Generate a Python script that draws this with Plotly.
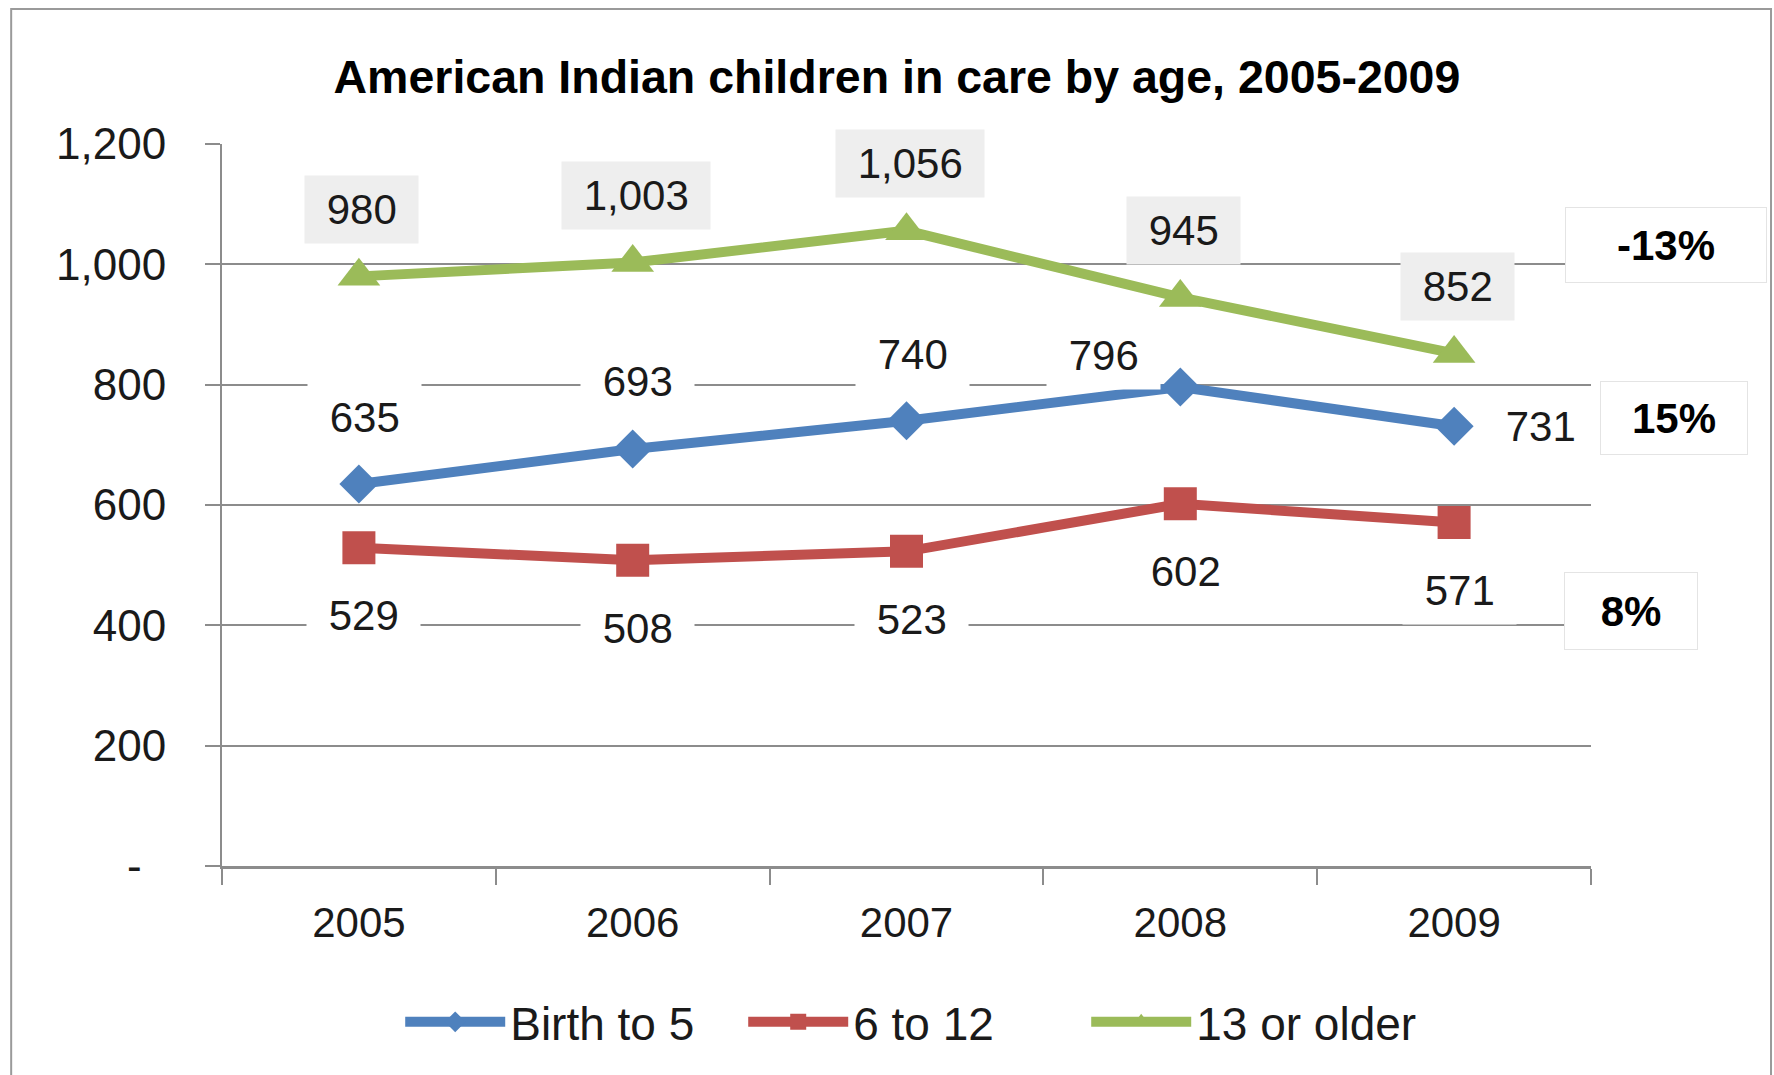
import plotly.graph_objects as go

years = ["2005", "2006", "2007", "2008", "2009"]
birth_to_5 = [635, 693, 740, 796, 731]
six_to_12 = [529, 508, 523, 602, 571]
thirteen_plus = [980, 1003, 1056, 945, 852]
series_names = ["Birth to 5", "6 to 12", "13 or older"]
y_ticks = [0, 200, 400, 600, 800, 1000, 1200]
y_ticktext = ["-\u00a0\u00a0", "200", "400", "600", "800", "1,000", "1,200"]

BLUE = "#4F81BD"
RED = "#C0504D"
GREEN = "#9BBB59"
GRID = "#8c8c8c"
TXT = "#1a1a1a"
FONT = "Liberation Sans"

fig = go.Figure()
fig.add_trace(go.Scatter(x=years, y=birth_to_5, name=series_names[0], mode="lines+markers",
                         line=dict(color=BLUE, width=10),
                         marker=dict(symbol="diamond", size=30, color=BLUE)))
fig.add_trace(go.Scatter(x=years, y=six_to_12, name=series_names[1], mode="lines+markers",
                         line=dict(color=RED, width=10),
                         marker=dict(symbol="square", size=33, color=RED)))
fig.add_trace(go.Scatter(x=years, y=thirteen_plus, name=series_names[2], mode="lines+markers",
                         line=dict(color=GREEN, width=10),
                         marker=dict(symbol="triangle-up", size=37, color=GREEN)))

def fmt(v):
    return "\u00a0" + f"{v:,}" + "\u00a0"

annotations = []
# Blue labels
blue_shift = [(6, 66), (5, 68), (6, 66), (-77, 32), (86, 0)]
for i, v in enumerate(birth_to_5):
    dx, dy = blue_shift[i]
    annotations.append(dict(x=i, y=v, xref="x", yref="y", text=fmt(v), showarrow=False,
                            xanchor="center", yanchor="middle", xshift=dx, yshift=dy,
                            bgcolor="white", borderpad=10,
                            font=dict(family=FONT, size=42, color=TXT)))
# Red labels
for i, v in enumerate(six_to_12):
    annotations.append(dict(x=i, y=v, xref="x", yref="y", text=fmt(v), showarrow=False,
                            xanchor="center", yanchor="middle", xshift=5, yshift=-68,
                            bgcolor="white", borderpad=10,
                            font=dict(family=FONT, size=42, color=TXT)))
# Green labels
for i, v in enumerate(thirteen_plus):
    annotations.append(dict(x=i, y=v, xref="x", yref="y", text=fmt(v), showarrow=False,
                            xanchor="center", yanchor="middle", xshift=3, yshift=67,
                            bgcolor="#eeeeee", borderpad=10,
                            font=dict(family=FONT, size=42, color=TXT)))

# Percent change labels
def pct(series):
    return round((series[-1] - series[0]) / series[0] * 100)

pct_specs = [
    (pct(thirteen_plus), 1.0548, 0.860, 200, 74),
    (pct(birth_to_5), 1.0606, 0.620, 146, 72),
    (pct(six_to_12), 1.0292, 0.353, 132, 76),
]
for p, px, py, w, h in pct_specs:
    annotations.append(dict(x=px, y=py, xref="paper", yref="paper", text=f"<b>{p}%</b>",
                            xanchor="center", yanchor="middle",
                            showarrow=False, width=w, height=h, borderpad=0,
                            bgcolor="white", bordercolor="#e4e4e4", borderwidth=1,
                            font=dict(family=FONT, size=42, color="#000000")))

fig.update_layout(
    width=1774, height=1075,
    margin=dict(l=222, r=183, t=144, b=209),
    paper_bgcolor="white", plot_bgcolor="white",
    title=dict(text="<b>American Indian children in care by age, 2005-2009</b>",
               x=0.5056, xref="container", xanchor="center",
               y=1 - 77 / 1075, yref="container", yanchor="middle",
               font=dict(family=FONT, size=46.5, color="#000000")),
    xaxis=dict(type="category", range=[-0.5, 4.5], showgrid=False, zeroline=False,
               showline=True, linecolor=GRID, linewidth=3,
               ticks="outside", tickson="boundaries", ticklen=16, tickwidth=2, tickcolor=GRID,
               ticklabelstandoff=18,
               tickfont=dict(family=FONT, size=42, color=TXT)),
    yaxis=dict(range=[0, 1200], tickvals=y_ticks, ticktext=y_ticktext,
               showgrid=True, gridcolor=GRID, gridwidth=2, zeroline=False,
               showline=True, linecolor=GRID, linewidth=2,
               ticks="outside", ticklen=15, tickwidth=2, tickcolor=GRID,
               ticklabelstandoff=30,
               tickfont=dict(family=FONT, size=44, color=TXT)),
    legend=dict(orientation="h", x=0.506, xanchor="center", y=-0.216, yanchor="middle",
                font=dict(family=FONT, size=46, color=TXT), itemwidth=100,
                entrywidth=228, entrywidthmode="pixels",
                bgcolor="rgba(0,0,0,0)"),
    annotations=annotations,
    shapes=[dict(type="rect", xref="paper", yref="paper", x0=-0.154, x1=1.1315,
                 y0=-0.32, y1=1.187, line=dict(color="#9a9a9a", width=2),
                 fillcolor="rgba(0,0,0,0)", layer="below")],
)

fig.write_html("out.html")
